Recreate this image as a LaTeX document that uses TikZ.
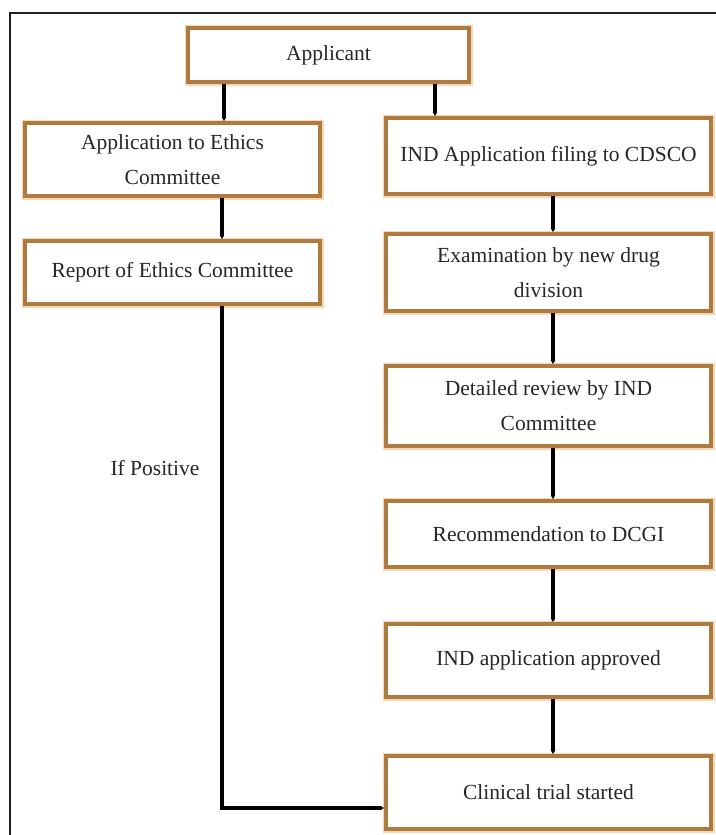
\documentclass[tikz,border=0pt]{standalone}
\usepackage{fontspec}
\setmainfont{Liberation Serif}
\usetikzlibrary{arrows.meta,calc}
\definecolor{boxbrown}{HTML}{B07A3E}
\definecolor{glow}{HTML}{F4D8B8}
\definecolor{txtgray}{HTML}{262626}
\definecolor{framegray}{HTML}{1E1E1E}
\begin{document}
\begin{tikzpicture}[x=1pt,y=-1pt,
  stepbox/.style={draw=boxbrown, line width=3.4pt,
    preaction={draw=glow, line width=7pt},
    fill=white, align=center, text=txtgray,
    font=\fontsize{21.5}{35}\selectfont, inner sep=2pt},
  conn/.style={line width=3.2pt, draw=black, -{Latex[length=4pt,width=5pt]}},
  lbl/.style={text=txtgray, font=\fontsize{21.5}{35}\selectfont}]
\useasboundingbox (0,0) rectangle (715,835);
\fill[white] (0,0) rectangle (715,835);
% outer frame (only left and top edges lie inside the picture)
\draw[framegray, line width=2.6pt] (10,840) -- (10,13) -- (720,13);

\node[stepbox, minimum width=281pt, minimum height=54pt] (app) at (328.5,55) {Applicant};
\node[stepbox, minimum width=295pt, minimum height=73pt] (eth) at (172.5,159.5) {Application to Ethics\\Committee};
\node[stepbox, minimum width=325pt, minimum height=76pt] (ind) at (548.5,156) {IND Application filing to CDSCO};
\node[stepbox, minimum width=295pt, minimum height=63pt] (rep) at (172.5,272.5) {Report of Ethics Committee};
\node[stepbox, minimum width=325pt, minimum height=77pt] (exam) at (548.5,272.5) {Examination by new drug\\division};
\node[stepbox, minimum width=325pt, minimum height=80pt] (det) at (548.5,406) {Detailed review by IND\\Committee};
\node[stepbox, minimum width=325pt, minimum height=66pt] (rec) at (548.5,534) {Recommendation to DCGI};
\node[stepbox, minimum width=325pt, minimum height=73pt] (apr) at (548.5,660.5) {IND application approved};
\node[stepbox, minimum width=325pt, minimum height=73pt] (cli) at (548.5,792.5) {Clinical trial started};

\node[lbl] (pos) at (155,468) {If Positive};

\coordinate (xa) at (224,0);
\coordinate (xb) at (435,0);
\coordinate (xc) at (222,0);
\coordinate (xd) at (553,0);
\coordinate (turn) at (222,808);

\draw[conn] (xa |- app.south) -- (xa |- eth.north);
\draw[conn] (xb |- app.south) -- (xb |- ind.north);
\draw[conn] (xc |- eth.south) -- (xc |- rep.north);
\draw[conn] (xd |- ind.south) -- (xd |- exam.north);
\draw[conn] (xd |- exam.south) -- (xd |- det.north);
\draw[conn] (xd |- det.south) -- (xd |- rec.north);
\draw[conn] (xd |- rec.south) -- (xd |- apr.north);
\draw[conn] (xd |- apr.south) -- (xd |- cli.north);
\draw[conn] (xc |- rep.south) -- (turn) -- (turn -| cli.west);
\end{tikzpicture}
\end{document}
